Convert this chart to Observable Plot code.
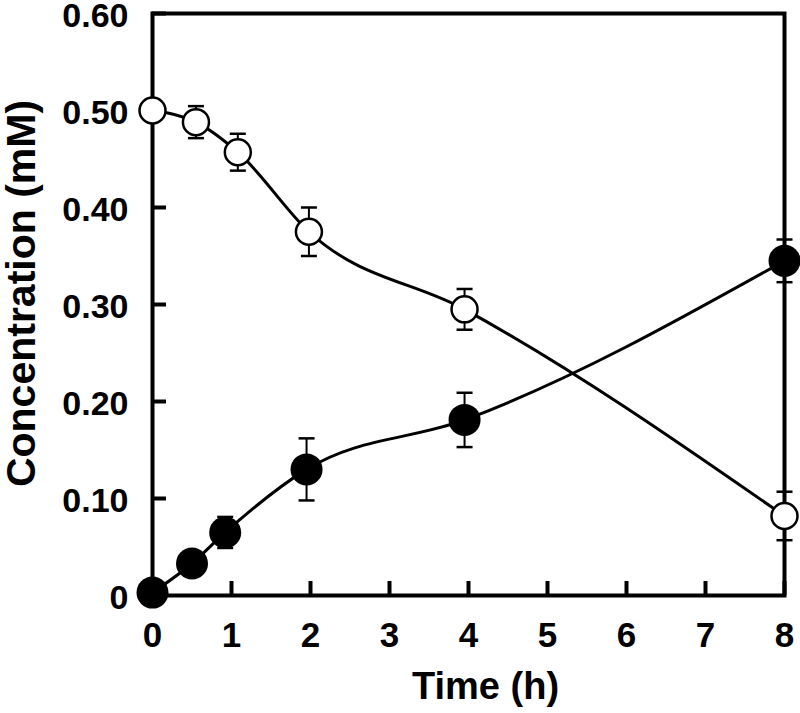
<!DOCTYPE html>
<html>
<head>
<meta charset="utf-8">
<script src="https://cdn.jsdelivr.net/npm/d3@7"></script>
<script src="https://cdn.jsdelivr.net/npm/@observablehq/plot@0.6"></script>
<style>
  html, body { margin: 0; padding: 0; background: #fff; }
</style>
</head>
<body>
<div id="chart"></div>
<script>
// Substrate (open circles)
const timeOpen = [0, 0.55, 1.08, 1.98, 3.95, 8];
const concOpen = [0.500, 0.488, 0.457, 0.375, 0.295, 0.082];
const errOpen  = [0, 0.0165, 0.019, 0.025, 0.021, 0.025];

// Product (filled circles)
const timeFilled = [0, 0.5, 0.92, 1.95, 3.95, 8];
const concFilled = [0.003, 0.033, 0.065, 0.130, 0.181, 0.345];
const errFilled  = [0, 0.008, 0.016, 0.032, 0.028, 0.022];

const xTicks = [0, 1, 2, 3, 4, 5, 6, 7, 8];
const yTicks = [0, 0.1, 0.2, 0.3, 0.4, 0.5, 0.6];
const xLabel = "Time (h)";
const yLabel = "Concentration (mM)";

const openData = timeOpen.map((t, i) => ({t, c: concOpen[i], e: errOpen[i]}));
const filledData = timeFilled.map((t, i) => ({t, c: concFilled[i], e: errFilled[i]}));
const allData = openData.concat(filledData);

const capSymbol = {
  draw(context, size) {
    const r = Math.sqrt(size / Math.PI);
    context.moveTo(-r, 0);
    context.lineTo(r, 0);
  }
};

const font = "'Liberation Sans', Arial, Helvetica, sans-serif";

const chart = Plot.plot({
  width: 800,
  height: 713,
  marginLeft: 152,
  marginRight: 16,
  marginTop: 13,
  marginBottom: 118,
  style: {fontFamily: font, fontWeight: "bold", background: "#fff", color: "#000", overflow: "visible"},
  x: {domain: [0, 8]},
  y: {domain: [0, 0.6]},
  marks: [
    // error bars
    Plot.ruleX(allData.filter(d => d.e > 0), {x: "t", y1: d => d.c - d.e, y2: d => d.c + d.e, stroke: "black", strokeWidth: 2}),
    Plot.dot(allData.filter(d => d.e > 0), {x: "t", y: d => d.c + d.e, symbol: capSymbol, r: 8, stroke: "black", strokeWidth: 2.5, fill: "none"}),
    Plot.dot(allData.filter(d => d.e > 0), {x: "t", y: d => d.c - d.e, symbol: capSymbol, r: 8, stroke: "black", strokeWidth: 2.5, fill: "none"}),
    // lines
    Plot.line(openData, {x: "t", y: "c", curve: "monotone-x", stroke: "black", strokeWidth: 3}),
    Plot.line(filledData, {x: "t", y: "c", curve: "monotone-x", stroke: "black", strokeWidth: 3}),
    // frame
    Plot.frame({stroke: "black", strokeWidth: 4}),
    // inward ticks
    Plot.axisX({ticks: xTicks, tickSize: 14, dy: -14, strokeWidth: 4, text: null, label: null}),
    Plot.axisY({ticks: yTicks, tickSize: 14, dx: 14, strokeWidth: 4, text: null, label: null}),
    // tick labels
    Plot.axisX({ticks: xTicks, tickSize: 0, tickPadding: 27, fontSize: 35, fontWeight: "bold", tickFormat: d => String(d), label: null}),
    Plot.axisY({ticks: yTicks, tickSize: 0, tickPadding: 24, dy: 3, fontSize: 34, fontWeight: "bold", tickFormat: d => d === 0 ? "0" : d.toFixed(2), label: null}),
    // markers
    Plot.dot(openData, {x: "t", y: "c", r: 13, fill: "white", stroke: "black", strokeWidth: 2.5}),
    Plot.dot(filledData, {x: "t", y: "c", r: 16, fill: "black", stroke: "none"}),
    // axis titles
    Plot.text([xLabel], {frameAnchor: "bottom", dy: 77, dx: 17, lineAnchor: "top", fontSize: 38, fontWeight: "bold", fill: "black"}),
    Plot.text([yLabel], {frameAnchor: "left", rotate: -90, dx: -131, dy: -11, textAnchor: "middle", lineAnchor: "middle", fontSize: 41, fontWeight: "bold", fill: "black"})
  ]
});

document.getElementById("chart").appendChild(chart);
</script>
</body>
</html>
